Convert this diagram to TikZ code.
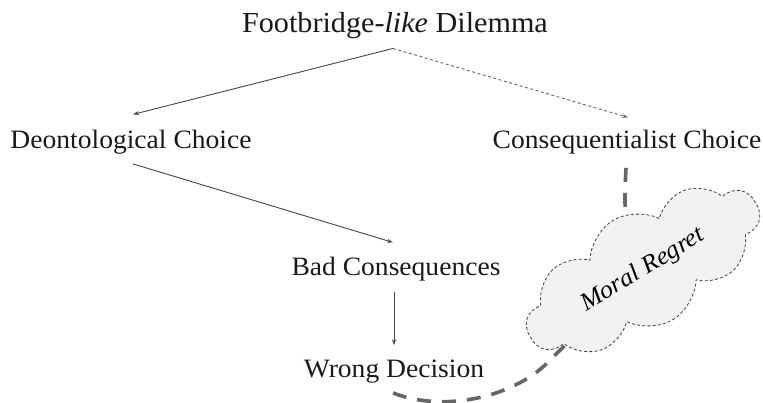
\documentclass[tikz,border=0pt]{standalone}
\usepackage{fontspec}
\setmainfont[FakeStretch=1.04]{Liberation Serif}
\usetikzlibrary{shapes.symbols,arrows.meta,calc}
\pgfdeclarelayer{background}
\pgfsetlayers{background,main}
\definecolor{linegray}{HTML}{444444}
\definecolor{dashgray}{HTML}{666666}
\definecolor{cloudfill}{HTML}{F2F2F2}
\begin{document}
\begin{tikzpicture}[x=1pt,y=-1pt,
  lbl/.style={inner sep=0pt, anchor=base, font=\fontsize{26.5}{30}\selectfont, text=black!90},
  arr/.style={draw=linegray, line width=0.9pt, -{Stealth[length=6pt,width=4pt]}},
  thindash/.style={draw=dashgray, line width=0.9pt, dash pattern=on 3pt off 2.5pt, -{Stealth[length=6pt,width=4pt]}},
  bigdash/.style={draw=dashgray, line width=3.6pt, dash pattern=on 14pt off 11pt},
  cloudbox/.style={cloud, cloud puffs=10, cloud puff arc=115, cloud ignores aspect,
    minimum width=262pt, minimum height=116pt, draw=black!75, fill=cloudfill,
    line width=0.8pt, dash pattern=on 3pt off 2.2pt, inner sep=0pt}]
\useasboundingbox (0,0) rectangle (763,402);
\node[lbl, font=\fontsize{29}{33}\selectfont] (title) at (395,32) {Footbridge-\textit{like} Dilemma};
\node[lbl] (deon) at (131,148) {Deontological Choice};
\node[lbl] (cons) at (627,148) {Consequentialist Choice};
\node[lbl] (bad) at (396,275) {Bad Consequences};
\node[lbl] (wrong) at (394,377) {Wrong Decision};
\node[cloudbox, rotate=31] (regret) at (643,270) {\fontsize{25}{29}\selectfont\itshape Moral Regret};
\coordinate (cb) at (553,357);
\draw[arr] ($(title.south)+(-2,10)$) -- ($(deon.north)+(2,-15)$);
\draw[thindash] ($(title.south)+(-2,10)$) -- ($(cons.north)+(1,-12)$);
\draw[arr] ($(deon.south)+(2,10)$) -- ($(bad.north)+(-3,-14)$);
\draw[arr] ($(bad.south)+(-2,11)$) -- ($(wrong.north)+(0,-14)$);
\begin{pgfonlayer}{background}
\draw[bigdash] ($(cons.south)+(-1,14)$) .. controls +(-2,40) and +(-20,-30) .. (regret.center);
\draw[bigdash] ($(wrong.south)+(-1,10)$) .. controls +(47,19) and +(-38,43) .. (cb) -- (regret.center);
\end{pgfonlayer}
\end{tikzpicture}
\end{document}
